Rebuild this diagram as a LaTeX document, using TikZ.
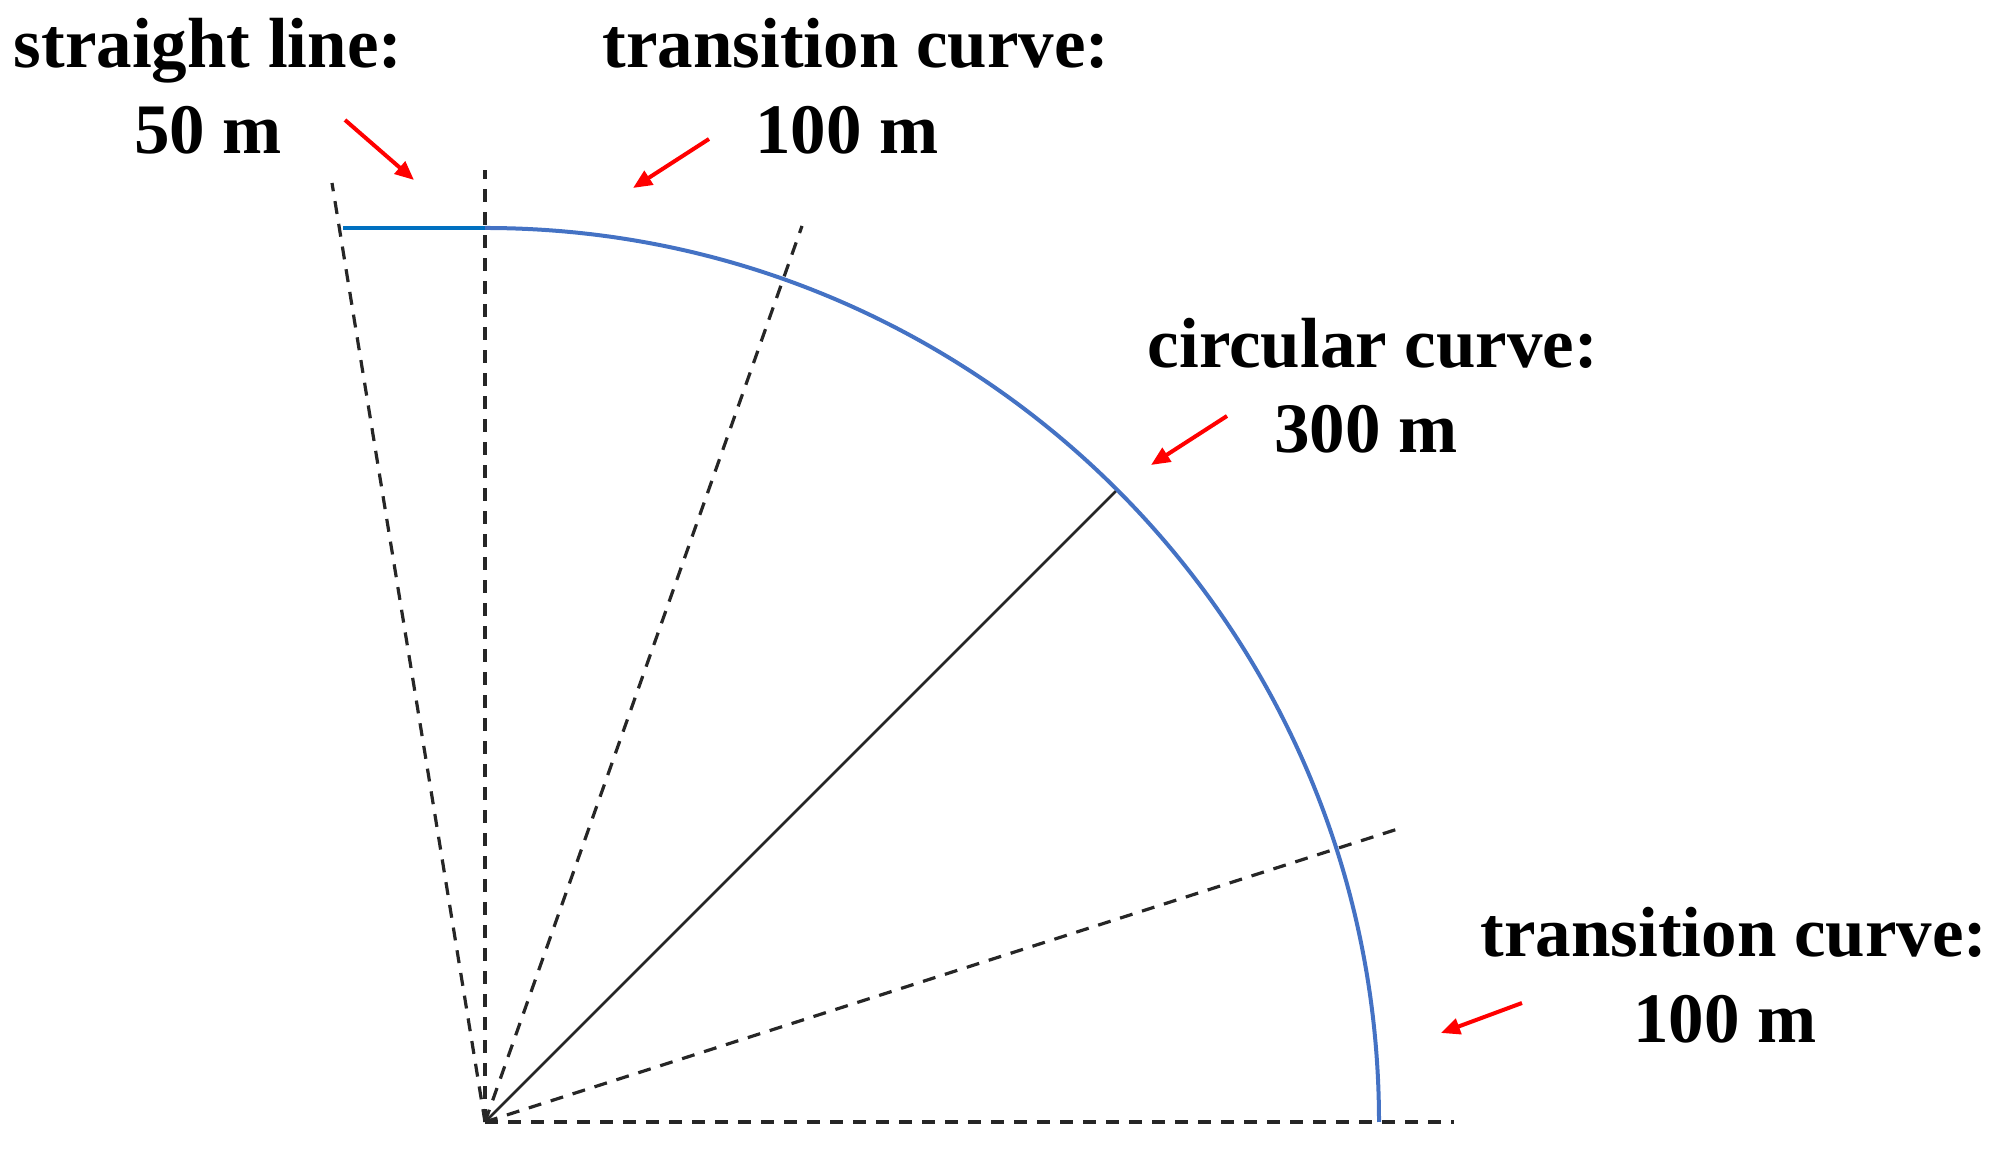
\documentclass[tikz,border=0pt]{standalone}
\usepackage{fontspec}
\setmainfont{Liberation Serif}
\usetikzlibrary{arrows.meta}
\definecolor{arcblue}{HTML}{4472C4}
\definecolor{lineblue}{HTML}{0070C0}
\definecolor{arrred}{HTML}{FF0000}
\begin{document}
\begin{tikzpicture}[x=1pt,y=1pt,
  lbl/.style={anchor=base,inner sep=0pt,font=\fontsize{71}{82}\selectfont\bfseries},
  guide/.style={draw=black!85,line width=3.2pt,dash pattern=on 13pt off 10pt},
  radial/.style={draw=black!85,line width=2.8pt},
  pointer/.style={draw=arrred,line width=4pt,-{Triangle[length=19pt,width=16pt]}},
  track/.style={draw=arcblue,line width=4pt},
  straight/.style={draw=lineblue,line width=4.4pt}]
\useasboundingbox (0,0) rectangle (2007,1155);
% geometry
\coordinate (O) at (485,33);
\coordinate (T1) at (485,927);
\coordinate (P0) at (343,927);
\coordinate (L1) at (332,972);
\coordinate (L2) at (485,985);
\coordinate (L3) at (802,929);
\coordinate (S) at (1117,665);
\coordinate (L4) at (1404,328);
\coordinate (L5) at (1454,33);
% dashed guides
\draw[guide] (O) -- (L1);
\draw[guide] (O) -- (L2);
\draw[guide] (O) -- (L3);
\draw[guide] (O) -- (L4);
\draw[guide] (O) -- (L5);
\draw[radial] (O) -- (S);
% track
\draw[straight] (P0) -- (T1);
\draw[track] (T1) arc[start angle=90,end angle=0,radius=894pt];
% labels
\node[lbl] (sl1) at (208,1087) {straight line:};
\node[lbl] (sl2) at (208,1001) {50 m};
\node[lbl] (tc1) at (856,1087) {transition curve:};
\node[lbl] (tc2) at (847,1001) {100 m};
\node[lbl] (cc1) at (1373,787) {circular curve:};
\node[lbl] (cc2) at (1366,702) {300 m};
\node[lbl] (tb1) at (1734,198) {transition curve:};
\node[lbl] (tb2) at (1725,112) {100 m};
% arrows
\coordinate (a1s) at (345,1035); \coordinate (a1e) at (414,975);
\coordinate (a2s) at (709,1016); \coordinate (a2e) at (633,967);
\coordinate (a3s) at (1227,739); \coordinate (a3e) at (1151,690);
\coordinate (a4s) at (1522,152); \coordinate (a4e) at (1441,122);
\draw[pointer] (a1s) -- (a1e);
\draw[pointer] (a2s) -- (a2e);
\draw[pointer] (a3s) -- (a3e);
\draw[pointer] (a4s) -- (a4e);
\end{tikzpicture}
\end{document}
